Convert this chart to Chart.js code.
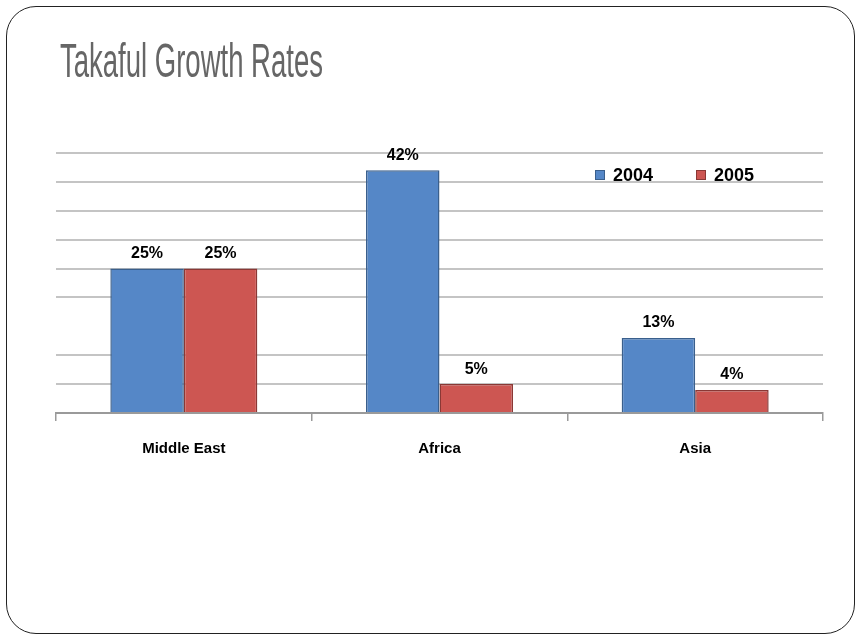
<!DOCTYPE html>
<html>
<head>
<meta charset="utf-8">
<script src="https://cdn.jsdelivr.net/npm/chart.js@4/dist/chart.umd.min.js"></script>
<style>
  html,body{margin:0;padding:0;background:#fff;}
  #wrap{position:relative;width:860px;height:640px;overflow:hidden;}
  #frame{position:absolute;left:6px;top:6px;width:847px;height:626px;border:1px solid #222;border-radius:30px;}
  #title{position:absolute;left:60px;top:33px;margin:0;font:normal 48px "Liberation Sans",Arial,sans-serif;color:#666;
    white-space:nowrap;transform:scaleX(0.573);transform-origin:left top;}
  #chart{position:absolute;left:0;top:0;}
</style>
</head>
<body>
<div id="wrap">
  <div id="frame"></div>
  <canvas id="chart" width="860" height="640"></canvas>
  <h1 id="title">Takaful Growth Rates</h1>
</div>
<script>
var regions=['Middle East','Africa','Asia'];
var years=['2004','2005'];
var rates2004=[25,42,13];
var rates2005=[25,5,4];

var fills=['#5587c7','#cd5652'];
var edges=['#3a5f8c','#8a3835'];

// value labels above each bar
var barLabels={
  id:'barLabels',
  afterDatasetsDraw:function(chart){
    var ctx=chart.ctx;
    ctx.save();
    ctx.font='bold 16px "Liberation Sans",Arial,sans-serif';
    ctx.fillStyle='#000';
    ctx.textAlign='center';
    ctx.textBaseline='bottom';
    chart.data.datasets.forEach(function(ds,i){
      chart.getDatasetMeta(i).data.forEach(function(bar,j){
        ctx.fillText(ds.data[j]+'%',bar.x,bar.y-7);
      });
    });
    ctx.restore();
  }
};

// legend sitting inside the plot, top right
var insideLegend={
  id:'insideLegend',
  afterDraw:function(chart){
    var ctx=chart.ctx;
    var x=595, y=175;
    ctx.save();
    ctx.font='bold 18px "Liberation Sans",Arial,sans-serif';
    ctx.textBaseline='middle';
    chart.data.datasets.forEach(function(ds,i){
      ctx.fillStyle=ds.backgroundColor;
      ctx.fillRect(x,y-5,10,10);
      ctx.strokeStyle=ds.borderColor;
      ctx.lineWidth=1;
      ctx.strokeRect(x+0.5,y-4.5,9,9);
      ctx.fillStyle='#000';
      ctx.fillText(ds.label,x+18,y+1);
      x+=101;
    });
    ctx.restore();
  }
};

new Chart(document.getElementById('chart'),{
  type:'bar',
  data:{
    labels:regions,
    datasets:[
      {label:years[0],data:rates2004,backgroundColor:fills[0],borderColor:edges[0],borderWidth:1.5},
      {label:years[1],data:rates2005,backgroundColor:fills[1],borderColor:edges[1],borderWidth:1.5}
    ]
  },
  options:{
    responsive:false,
    animation:false,
    layout:{padding:{top:153,left:56,right:37,bottom:163}},
    datasets:{bar:{categoryPercentage:0.575,barPercentage:1}},
    plugins:{legend:{display:false},tooltip:{enabled:false}},
    scales:{
      x:{
        grid:{drawOnChartArea:false,drawTicks:true,tickLength:8,color:'#9a9a9a',lineWidth:1.5},
        border:{color:'#9a9a9a',width:2},
        ticks:{color:'#000',padding:19,font:{family:'"Liberation Sans",Arial,sans-serif',size:15,weight:'bold'}}
      },
      y:{
        min:0,max:45,
        ticks:{display:false,stepSize:5},
        border:{display:false},
        grid:{drawTicks:false,lineWidth:2,
          color:function(c){return c.tick&&c.tick.value===15?'rgba(0,0,0,0)':'#c4c4c4';}}
      }
    }
  },
  plugins:[barLabels,insideLegend]
});
</script>
</body>
</html>
